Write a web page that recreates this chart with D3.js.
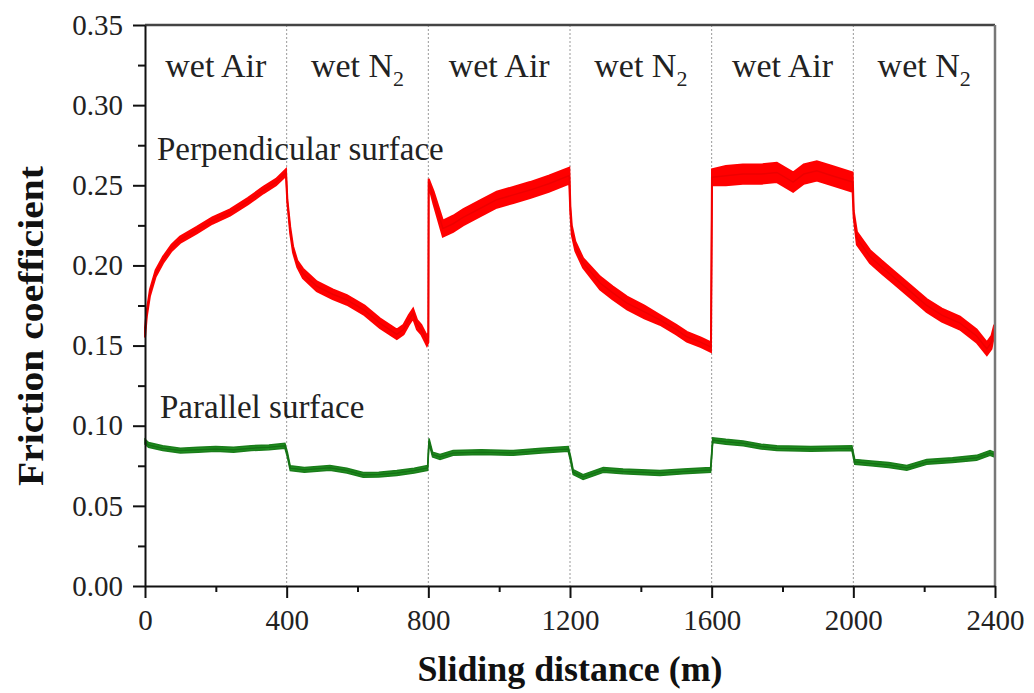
<!DOCTYPE html>
<meta charset="utf-8">
<style>
body { margin: 0; background: #fff; }
svg { display: block; font-family: "Liberation Serif", "DejaVu Serif", serif; }
.axis path, .axis line { stroke: #111; stroke-width: 2px; }
.axis text { font-size: 29px; fill: #222; font-family: "Liberation Serif", serif; }
.divider { stroke: #999; stroke-width: 1px; stroke-dasharray: 2,2; }
.gas { font-size: 34px; fill: #222; }
.note { font-size: 33px; fill: #222; }
.title { font-size: 35px; font-weight: bold; fill: #111; }
</style>
<body>
<script src="https://d3js.org/d3.v7.min.js"></script>
<script>
// --- data ---
var gasLabels = ["wet Air", "wet N", "wet Air", "wet N", "wet Air", "wet N"];
var switchPoints = [400, 800, 1200, 1600, 2000];
var xTicks = [0, 400, 800, 1200, 1600, 2000, 2400];
var yTicks = [0, 0.05, 0.10, 0.15, 0.20, 0.25, 0.30, 0.35];

// perpendicular surface: sliding distance, mean friction, half band width
var perpDist = [0, 5, 14, 30, 51, 75, 99, 146, 190, 240, 290, 334, 370, 398,
  402, 410, 418, 430, 446, 485, 530, 570, 620, 663, 711, 730, 745, 757, 768, 780, 796, 800,
  801, 815, 841, 870, 898, 950, 993, 1040, 1087, 1140, 1198,
  1201, 1205, 1215, 1237, 1285, 1320, 1361, 1410, 1454, 1500, 1530, 1570, 1598,
  1601, 1640, 1688, 1740, 1784, 1830, 1860, 1897, 1940, 1998,
  2001, 2010, 2047, 2080, 2112, 2160, 2207, 2250, 2301, 2348, 2377, 2390, 2398];
var perpMu = [0.158, 0.170, 0.183, 0.195, 0.2035, 0.211, 0.216, 0.222, 0.228, 0.233, 0.240, 0.247, 0.252, 0.258,
  0.240, 0.222, 0.210, 0.201, 0.195, 0.187, 0.182, 0.1785, 0.172, 0.164, 0.157, 0.160, 0.166, 0.170, 0.163, 0.160, 0.153, 0.155,
  0.252, 0.242, 0.223, 0.226, 0.230, 0.236, 0.241, 0.244, 0.247, 0.251, 0.256,
  0.235, 0.222, 0.212, 0.2015, 0.189, 0.183, 0.1765, 0.171, 0.166, 0.160, 0.1555, 0.152, 0.149,
  0.255, 0.256, 0.257, 0.257, 0.258, 0.252, 0.257, 0.259, 0.256, 0.252,
  0.232, 0.217, 0.2055, 0.199, 0.193, 0.184, 0.175, 0.169, 0.164, 0.156, 0.148, 0.152, 0.160];
var perpBand = [0.003, 0.002, 0.002, 0.002, 0.002, 0.002, 0.002, 0.002, 0.002, 0.002, 0.002, 0.002, 0.002, 0.002,
  0.001, 0.002, 0.002, 0.002, 0.003, 0.003, 0.003, 0.003, 0.003, 0.003, 0.003, 0.003, 0.003, 0.003, 0.003, 0.003, 0.003, 0.003,
  0.002, 0.004, 0.005, 0.005, 0.005, 0.005, 0.005, 0.005, 0.005, 0.005, 0.005,
  0.002, 0.003, 0.003, 0.003, 0.004, 0.004, 0.004, 0.004, 0.003, 0.003, 0.003, 0.003, 0.003,
  0.005, 0.006, 0.006, 0.006, 0.006, 0.006, 0.006, 0.006, 0.006, 0.006,
  0.002, 0.004, 0.004, 0.004, 0.004, 0.004, 0.004, 0.004, 0.004, 0.004, 0.004, 0.004, 0.003];

// parallel surface
var paraDist = [0, 10, 50, 100, 150, 200, 250, 300, 350, 395,
  402, 410, 450, 522, 570, 616, 660, 711, 760, 798,
  802, 812, 833, 870, 950, 1040, 1120, 1195,
  1202, 1209, 1237, 1294, 1350, 1454, 1520, 1597,
  1603, 1640, 1689, 1740, 1784, 1880, 1996,
  2004, 2050, 2100, 2151, 2207, 2280, 2348, 2386, 2398];
var paraMu = [0.090, 0.088, 0.086, 0.0845, 0.085, 0.0855, 0.085, 0.086, 0.0865, 0.0875,
  0.082, 0.0735, 0.0725, 0.0737, 0.072, 0.0693, 0.0695, 0.0705, 0.072, 0.0737,
  0.0905, 0.082, 0.0805, 0.083, 0.0835, 0.083, 0.0845, 0.0855,
  0.079, 0.071, 0.068, 0.0724, 0.0715, 0.0705, 0.0715, 0.0724,
  0.091, 0.090, 0.089, 0.087, 0.086, 0.0855, 0.086,
  0.0775, 0.0765, 0.0755, 0.0737, 0.0774, 0.0785, 0.080, 0.083, 0.082];
var paraBand = 0.0015;

// --- chart ---
var width = 1034, height = 693;
var svg = d3.select("body").append("svg")
    .attr("width", width)
    .attr("height", height);

var x = d3.scaleLinear().domain([0, 2400]).range([145, 995]);
var y = d3.scaleLinear().domain([0, 0.35]).range([586, 25]);

// phase dividers
svg.selectAll(".divider")
    .data(switchPoints)
    .enter().append("line")
    .attr("class", "divider")
    .attr("x1", d => x(d)).attr("x2", d => x(d))
    .attr("y1", y(0.35)).attr("y2", y(0));

// gas labels
var gasMid = d3.range(6).map(i => i * 400 + 200);
var gas = svg.selectAll(".gas")
    .data(gasLabels)
    .enter().append("text")
    .attr("class", "gas")
    .attr("x", (d, i) => x(gasMid[i]))
    .attr("y", 77)
    .attr("text-anchor", "middle");
gas.append("tspan").text(d => d);
gas.filter(d => d === "wet N").append("tspan")
    .attr("dy", 9)
    .style("font-size", "22px")
    .text("2");

var perp = perpDist.map((d, i) => ({ d: d, mu: perpMu[i], b: perpBand[i] }));
var para = paraDist.map((d, i) => ({ d: d, mu: paraMu[i], b: paraBand }));

var band = d3.area()
    .x(p => x(p.d))
    .y0(p => y(p.mu - p.b))
    .y1(p => y(p.mu + p.b));
var mid = d3.line()
    .x(p => x(p.d))
    .y(p => y(p.mu));

// perpendicular surface band
svg.append("path").datum(perp)
    .attr("d", band)
    .attr("fill", "#f00")
    .attr("stroke", "#f00")
    .attr("stroke-width", 2);
svg.append("path").datum(perp)
    .attr("d", mid)
    .attr("fill", "none")
    .attr("stroke", "#e00")
    .attr("stroke-width", 1.5);

// parallel surface band
svg.append("path").datum(para)
    .attr("d", band)
    .attr("fill", "#1f8f1f")
    .attr("stroke", "#1a7d1a")
    .attr("stroke-width", 1.5);
svg.append("path").datum(para)
    .attr("d", mid)
    .attr("fill", "none")
    .attr("stroke", "#157015")
    .attr("stroke-width", 1.5);

// frame (top and right)
svg.append("line")
    .attr("x1", x(0)).attr("x2", x(2400))
    .attr("y1", y(0.35)).attr("y2", y(0.35))
    .attr("stroke", "#444").attr("stroke-width", 2.5);
svg.append("line")
    .attr("x1", x(2400)).attr("x2", x(2400))
    .attr("y1", y(0.35)).attr("y2", y(0))
    .attr("stroke", "#777").attr("stroke-width", 2.5);

// minor ticks
svg.append("g")
    .attr("class", "axis")
    .attr("transform", "translate(0," + y(0) + ")")
    .call(d3.axisBottom(x).tickValues(d3.range(200, 2400, 400)).tickSize(6).tickFormat(""))
    .select(".domain").remove();
svg.append("g")
    .attr("class", "axis")
    .attr("transform", "translate(" + x(0) + ",0)")
    .call(d3.axisLeft(y).tickValues(d3.range(0.025, 0.35, 0.05)).tickSize(7).tickFormat(""))
    .select(".domain").remove();

// main axes
svg.append("g")
    .attr("class", "axis")
    .attr("transform", "translate(0," + y(0) + ")")
    .call(d3.axisBottom(x).tickValues(xTicks).tickSize(12).tickSizeOuter(0).tickPadding(11).tickFormat(d3.format("d")));
svg.append("g")
    .attr("class", "axis")
    .attr("transform", "translate(" + x(0) + ",0)")
    .call(d3.axisLeft(y).tickValues(yTicks).tickSize(12).tickSizeOuter(0).tickPadding(10).tickFormat(d3.format(".2f")));

// curve notes
svg.append("text").attr("class", "note")
    .attr("x", 157).attr("y", 160)
    .text("Perpendicular surface");
svg.append("text").attr("class", "note")
    .attr("x", 160).attr("y", 418)
    .text("Parallel surface");

// axis titles
svg.append("text").attr("class", "title")
    .attr("x", 570).attr("y", 681)
    .attr("text-anchor", "middle")
    .attr("textLength", 305)
    .attr("lengthAdjust", "spacingAndGlyphs")
    .text("Sliding distance (m)");
svg.append("text").attr("class", "title")
    .attr("transform", "translate(43,326) rotate(-90)")
    .attr("text-anchor", "middle")
    .attr("textLength", 320)
    .attr("lengthAdjust", "spacingAndGlyphs")
    .text("Friction coefficient");
</script>
</body>
